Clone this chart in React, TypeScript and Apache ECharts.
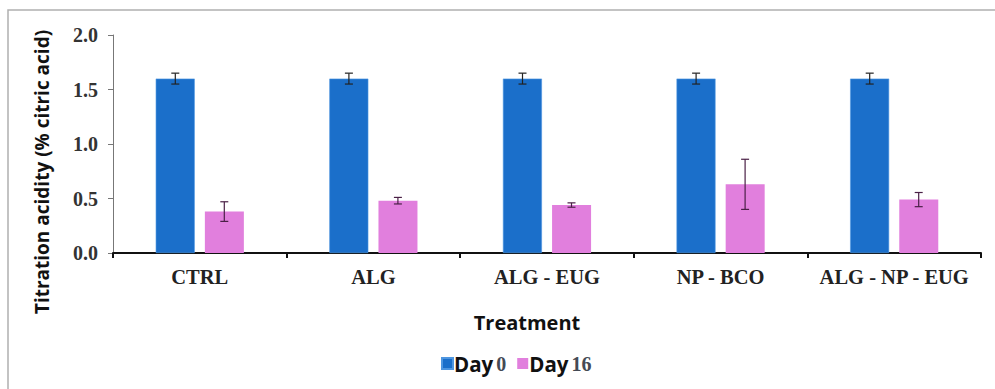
import React, { useEffect, useRef } from "react";
import * as echarts from "echarts";

const categories = ["CTRL", "ALG", "ALG - EUG", "NP - BCO", "ALG - NP - EUG"];
const day0 = [1.6, 1.6, 1.6, 1.6, 1.6];
const day0Err = [0.05, 0.05, 0.05, 0.05, 0.05];
const day16 = [0.38, 0.48, 0.44, 0.63, 0.49];
const day16Err = [0.09, 0.03, 0.02, 0.23, 0.065];
const yTicks = [0, 0.5, 1.0, 1.5, 2.0];

const BLUE = "#1b6fca";
const PINK = "#e17fdd";

function errSeries(name: string, vals: number[], errs: number[], offset: number, color: string) {
  return {
    type: "custom",
    name,
    silent: true,
    z: 10,
    data: vals.map((v, i) => [i, v, errs[i]]),
    renderItem: (params: any, api: any) => {
      const x = api.value(0);
      const v = api.value(1);
      const e = api.value(2);
      const top = api.coord([x, v + e]);
      const bot = api.coord([x, v - e]);
      const cx = top[0] + offset;
      const cap = 4;
      const style = { stroke: color, lineWidth: 1.2 };
      return {
        type: "group",
        children: [
          { type: "line", shape: { x1: cx, y1: top[1], x2: cx, y2: bot[1] }, style },
          { type: "line", shape: { x1: cx - cap, y1: top[1], x2: cx + cap, y2: top[1] }, style },
          { type: "line", shape: { x1: cx - cap, y1: bot[1], x2: cx + cap, y2: bot[1] }, style },
        ],
      };
    },
  };
}

export default function App() {
  const ref = useRef<HTMLDivElement>(null);
  useEffect(() => {
    if (!ref.current) return;
    const chart = echarts.init(ref.current, null, { renderer: "svg" });
    const serif = "'Liberation Serif', 'Times New Roman', serif";
    const sans = "'Open Sans', 'Noto Sans', sans-serif";
    chart.setOption({
      animation: false,
      backgroundColor: "#ffffff",
      grid: { left: 113, right: 14, top: 35, bottom: 136 },
      graphic: [
        {
          type: "rect",
          shape: { x: 8, y: 10, width: 1200, height: 800 },
          style: { fill: "none", stroke: "#b0b0b0", lineWidth: 1.5 },
          silent: true,
        },
        {
          type: "text",
          x: 42,
          y: 172,
          rotation: Math.PI / 2,
          style: {
            text: "Titration acidity (% citric acid)",
            font: `bold 19px ${sans}`,
            fill: "#111",
            align: "center",
            verticalAlign: "middle",
          },
        },
        {
          type: "text",
          x: 527,
          y: 322,
          style: {
            text: "Treatment",
            font: `bold 20px ${sans}`,
            fill: "#111",
            align: "center",
            verticalAlign: "middle",
          },
        },
      ],
      legend: {
        left: 436,
        top: 348,
        itemWidth: 11,
        itemHeight: 11,
        itemGap: 11,
        icon: "rect",
        data: ["Day 0", "Day 16"],
        formatter: (name: string) => {
          const parts = name.split(" ");
          return `{a|${parts[0]}}{b|${parts[1]}}`;
        },
        textStyle: {
          padding: [0, 0, 0, -4],
          rich: {
            a: { fontFamily: sans, fontWeight: "bold", fontSize: 20.5, color: "#111" },
            b: { fontFamily: serif, fontWeight: "bold", fontSize: 20, color: "#444a55", padding: [0, 0, 0, 3] },
          },
        },
      },
      xAxis: {
        type: "category",
        data: categories,
        axisLine: { show: true, lineStyle: { color: "#111", width: 2 } },
        axisTick: { show: true, length: 5, lineStyle: { color: "#111", width: 2 } },
        axisLabel: {
          interval: 0,
          fontFamily: serif,
          fontWeight: "bold",
          fontSize: 20.5,
          color: "#222",
          margin: 13,
        },
      },
      yAxis: {
        type: "value",
        min: 0,
        max: 2,
        interval: 0.5,
        axisLine: { show: true, lineStyle: { color: "#777", width: 1 } },
        axisTick: { show: true, length: 5, lineStyle: { color: "#777" } },
        splitLine: { show: false },
        axisLabel: {
          fontFamily: serif,
          fontWeight: "bold",
          fontSize: 20,
          color: "#333",
          margin: 15,
          formatter: (v: number) => (yTicks.includes(v) ? v.toFixed(1) : ""),
        },
      },
      series: [
        {
          name: "Day 0",
          type: "bar",
          data: day0,
          barWidth: 39,
          barGap: "26%",
          itemStyle: { color: BLUE, borderColor: "#4e96e0", borderWidth: 0.6 },
        },
        {
          name: "Day 16",
          type: "bar",
          data: day16,
          barWidth: 39,
          itemStyle: { color: PINK },
        },
        errSeries("err0", day0, day0Err, -24.5, "#222"),
        errSeries("err16", day16, day16Err, 24.5, "#4a2046"),
      ],
    });
    return () => chart.dispose();
  }, []);
  return (
    <div
      ref={ref}
      style={{ position: "fixed", left: 0, top: 0, width: 995, height: 389 }}
    />
  );
}
